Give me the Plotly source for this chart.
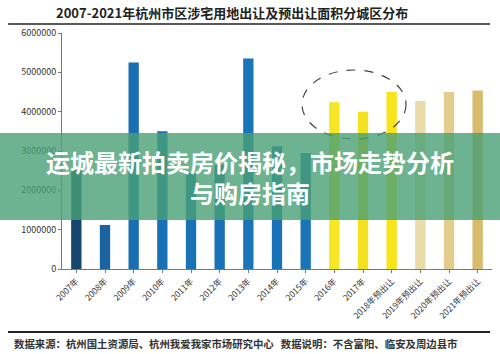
import plotly.graph_objects as go

categories = ["2007年", "2008年", "2009年", "2010年", "2011年", "2012年", "2013年", "2014年",
              "2015年", "2016年", "2017年", "2018年预出让", "2019年预出让", "2020年预出让", "2021年预出让"]
values = [2520000, 1120000, 5250000, 3500000, 2460000, 2650000, 5350000, 3120000,
          2950000, 4240000, 4000000, 4500000, 4270000, 4500000, 4540000]
bar_colors = ["#15466c", "#1b64a0", "#1a6fb3", "#1a70b4", "#1a72b6", "#1a72b6", "#1a74b8", "#1a72b6",
              "#1a74b8", "#f7e624", "#f5e21e", "#f7e41a", "#e9dcaa", "#e3cd8e", "#d8bb6c"]
y_ticks = [0, 1000000, 2000000, 3000000, 4000000, 5000000, 6000000]

title_text = "2007-2021年杭州市区涉宅用地出让及预出让面积分城区分布"
footer_text = "数据来源：杭州国土资源局、杭州我爱我家市场研究中心   数据说明：不含富阳、临安及周边县市"
banner_text = "运城最新拍卖房价揭秘，市场走势分析<br>与购房指南"

W, H = 500, 354
FONT = "Noto Sans CJK SC"

fig = go.Figure()
fig.add_trace(go.Bar(x=categories, y=values, marker=dict(color=bar_colors, line=dict(width=0)),
                     width=0.36))

fig.update_layout(
    width=W, height=H,
    margin=dict(l=62, r=8, t=33, b=85),
    paper_bgcolor="white", plot_bgcolor="white",
    showlegend=False,
    font=dict(family=FONT, color="#333"),
    xaxis=dict(type="category", showline=True, linecolor="#777", linewidth=1,
               ticks="outside", ticklen=3, tickcolor="#777",
               tickangle=-45, tickfont=dict(size=8.5, color="#333"), showgrid=False),
    yaxis=dict(range=[0, 6000000], tickvals=y_ticks, ticktext=[str(v) for v in y_ticks],
               showline=True, linecolor="#777", linewidth=1, ticks="outside", ticklen=3,
               tickcolor="#777", tickfont=dict(size=9, color="#333"), showgrid=False,
               zeroline=False),
)

pl, pr, pt, pb = 62, 492, 33, 269
def xp(x): return (x - pl) / (pr - pl)
def yp(y): return (pb - y) / (pb - pt)

shapes = []
shapes.append(dict(type="line", xref="paper", yref="paper", x0=xp(8), x1=xp(490), y0=yp(24), y1=yp(24),
                   line=dict(color="#222", width=1.5)))
shapes.append(dict(type="line", xref="paper", yref="paper", x0=xp(8), x1=xp(490), y0=yp(332), y1=yp(332),
                   line=dict(color="#222", width=2)))
shapes.append(dict(type="circle", xref="paper", yref="paper", x0=xp(302), x1=xp(406), y0=yp(139), y1=yp(70),
                   line=dict(color="#444", width=1.2, dash="dash")))
shapes.append(dict(type="rect", xref="paper", yref="paper", x0=xp(0), x1=xp(500), y0=yp(220), y1=yp(133),
                   fillcolor="rgba(72,160,118,0.80)", line=dict(width=0), layer="above"))
fig.update_layout(shapes=shapes)

fig.add_annotation(text="<b>" + title_text + "</b>", xref="paper", yref="paper", x=xp(232), y=yp(12),
                   showarrow=False, font=dict(size=13, color="#222", family=FONT),
                   xanchor="center", yanchor="middle")
fig.add_annotation(text="<b>" + footer_text + "</b>", xref="paper", yref="paper", x=xp(12), y=yp(343),
                   showarrow=False, font=dict(size=10.4, color="#333", family=FONT),
                   xanchor="left", yanchor="middle")
fig.add_annotation(text="<b>" + banner_text + "</b>", xref="paper", yref="paper", x=xp(250), y=yp(177),
                   showarrow=False, font=dict(size=24, color="white", family=FONT),
                   xanchor="center", yanchor="middle", align="center")

fig.write_html("out.html")
